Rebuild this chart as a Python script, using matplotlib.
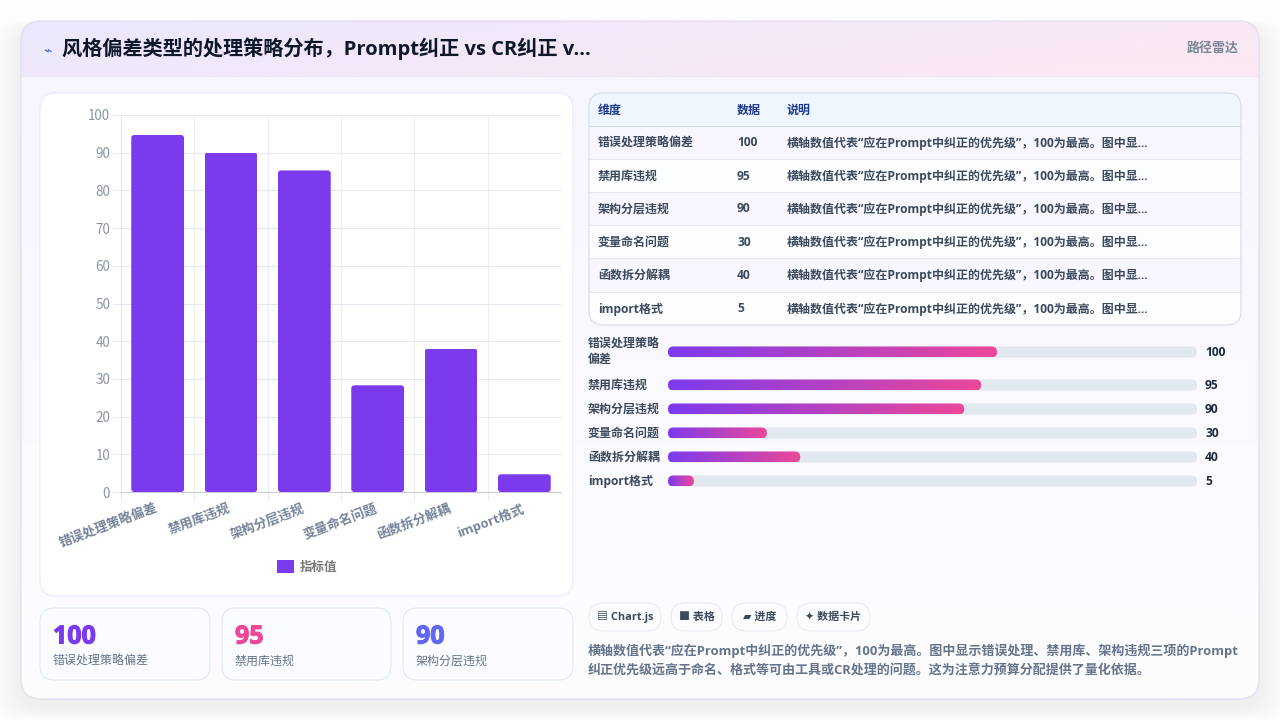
import numpy as np
import matplotlib
matplotlib.use("Agg")
import matplotlib.pyplot as plt
import matplotlib.patheffects as pe
from matplotlib.colors import LinearSegmentedColormap
from matplotlib.patches import FancyBboxPatch, Rectangle
from matplotlib.ticker import FixedLocator
from matplotlib.transforms import ScaledTranslation

plt.rcParams['font.family'] = ['Open Sans', 'Noto Sans CJK SC', 'DejaVu Sans']

# data
categories = ['错误处理策略偏差', '禁用库违规', '架构分层违规', '变量命名问题', '函数拆分解耦', 'import格式']
bar_values = [94.7, 90, 85.3, 28.3, 38, 4.7]
table_values = [100, 95, 90, 30, 40, 5]
fill_percent = [62.2, 59.2, 56, 18.7, 25, 4.9]
progress_labels = ['错误处理策略\n偏差', '禁用库违规', '架构分层违规', '变量命名问题', '函数拆分解耦', 'import格式']
table_note = '横轴数值代表“应在Prompt中纠正的优先级”，100为最高。图中显...'
table_headers = ['维度', '数据', '说明']
stat_values = ['100', '95', '90']
stat_labels = ['错误处理策略偏差', '禁用库违规', '架构分层违规']
stat_colors = ['#7c3aed', '#ec4899', '#6366f1']
pill_texts = ['▤ Chart.js', '■ 表格', '▰ 进度', '✦ 数据卡片']
title = '风格偏差类型的处理策略分布，Prompt纠正 vs CR纠正 v...'
badge = '路径雷达'
desc_lines = ['横轴数值代表“应在Prompt中纠正的优先级”，100为最高。图中显示错误处理、禁用库、架构违规三项的Prompt',
              '纠正优先级远高于命名、格式等可由工具或CR处理的问题。这为注意力预算分配提供了量化依据。']

W, H = 1280, 720
CJK = ['Noto Sans CJK SC', 'DejaVu Sans']


def px(size):
    # css pixels to points at dpi 100
    return size * 0.72


def axes_at(x0, y0, x1, y1, z=2):
    a = fig.add_axes([x0 / W, 1 - y1 / H, (x1 - x0) / W, (y1 - y0) / H], zorder=z)
    a.patch.set_alpha(0)
    return a


def rbox(a, x0, y0, x1, y1, r, fc='none', ec='none', lw=0.7, z=1, alpha=None, aspect=1):
    p = FancyBboxPatch((x0, y0), x1 - x0, y1 - y0, boxstyle='round,pad=0,rounding_size=%f' % r,
                       fc=fc, ec=ec, lw=lw, zorder=z, alpha=alpha, mutation_aspect=aspect)
    a.add_patch(p)
    return p


def gradient(a, clip, extent, c0, c1, z=1, mode='h'):
    cmap = LinearSegmentedColormap.from_list('g', [c0, c1])
    g = np.linspace(0, 1, 256).reshape(1, -1)
    if mode == 'diag':
        g = np.add.outer(np.linspace(0, .25, 64), np.linspace(0, .75, 256))
    if mode == 'v':
        g = np.linspace(0, 1, 256).reshape(-1, 1)
    im = a.imshow(g, extent=extent, cmap=cmap, vmin=0, vmax=1, aspect='auto', zorder=z,
                  interpolation='bilinear')
    im.set_clip_path(clip)
    return im


fig = plt.figure(figsize=(12.8, 7.2), dpi=100, facecolor='#fdfdfe')
bg = fig.add_axes([0, 0, 1, 1], zorder=0)
bg.set_xlim(0, W)
bg.set_ylim(H, 0)
bg.axis('off')

# card shadow
for i in range(14):
    rbox(bg, 21 - i * 2, 33 - i, 1259 + i * 2, 707 + i, 22, fc='#0f172a', alpha=0.004, z=0.5)

# main card
card = rbox(bg, 21, 21, 1259, 699, 20, fc='#fbfaff', z=1)
gradient(bg, card, (21, 1259, 699, 21), '#f7f5ff', '#fdfdff', z=1.1, mode='v')
h = gradient(bg, card, (21, 1259, 76, 21), '#ebe8fd', '#fde8f3', z=1.2, mode='diag')
bg.plot([21, 1259], [76, 76], color='#e9e7f8', lw=0.7, zorder=1.3)
rbox(bg, 21, 21, 1259, 699, 20, ec='#dedbf2', lw=0.8, z=1.4)
bg.set_xlim(0, W)
bg.set_ylim(H, 0)

bg.text(47, 50, '⌁', fontsize=px(14), color='#3b5bdb', ha='center', va='center', zorder=3,
        family=['DejaVu Sans'])
bg.text(62, 49, title, fontsize=px(20.2), fontweight='bold', color='#0f172a', va='center', zorder=3)
bg.text(1239, 48, badge, fontsize=px(13), fontweight='bold', color='#7c8798', ha='right', va='center', zorder=3)

# chart panel
rbox(bg, 40, 93, 573, 596, 16, fc='white', ec='#e4eaf6', z=2)

ax = axes_at(121, 115, 561, 492)
xpos = np.arange(len(categories))
bars = ax.bar(xpos, bar_values, width=0.72, color='#7c3aed', label='指标值', zorder=3)
ax.set_xlim(-0.5, 5.5)
ax.set_ylim(0, 100)
ux, uy = 440 / 6, 377 / 100
for b in bars:
    cp = FancyBboxPatch((b.get_x(), 0), b.get_width(), b.get_height(),
                        boxstyle='round,pad=0,rounding_size=%f' % (3 / ux),
                        mutation_aspect=ux / uy, fc='none', ec='none', transform=ax.transData)
    ax.add_patch(cp)
    b.set_clip_path(cp)
ax.set_yticks(np.arange(0, 101, 10))
ax.set_xticks(xpos)
ax.set_xticklabels(categories, rotation=20.5, ha='right', rotation_mode='anchor',
                   fontsize=px(13), fontweight='bold', color='#76839a')
ax.xaxis.set_minor_locator(FixedLocator(np.arange(-0.5, 5, 1)))
ax.tick_params(axis='x', which='major', length=0, pad=7)
ax.tick_params(axis='x', which='minor', length=5.8, color='#e6e9f0', width=0.7)
ax.tick_params(axis='y', length=5.8, color='#e2e8f0', width=0.7, labelsize=px(13.5),
               labelcolor='#8a94a3', pad=2)
# labels sit a little left of the tick centre
shift = ScaledTranslation(-3 / 100, 0, fig.dpi_scale_trans)
for lab in ax.get_xticklabels():
    lab.set_transform(lab.get_transform() + shift)
for lab in ax.get_yticklabels():
    lab.set_family(CJK)
ax.grid(True, axis='y', color='#e2e8f0', lw=0.7, zorder=0)
ax.grid(True, axis='x', which='minor', color='#e9edf3', lw=0.7, zorder=0)
ax.set_axisbelow(True)
for s in ['top', 'right']:
    ax.spines[s].set_visible(False)
ax.spines['left'].set_color('#e2e8f0')
ax.spines['left'].set_linewidth(0.7)
ax.spines['bottom'].set_color('#c9ccd8')
ax.spines['bottom'].set_linewidth(0.7)
ax.legend(handles=[bars], loc='center', bbox_to_anchor=(307 / W, 1 - 567 / H),
          bbox_transform=fig.transFigure, frameon=False, prop={'size': px(12.5), 'weight': 'bold'},
          labelcolor='#77777c', handlelength=1.36, handleheight=1.2, handletextpad=0.5, borderpad=0)

# stat cards
card_x = [(40, 210), (222, 391), (403, 573)]
for (x0, x1), v, lab, c in zip(card_x, stat_values, stat_labels, stat_colors):
    rbox(bg, x0, 608, x1, 680, 14, fc='#fafcff', ec='#dbe7f7', z=2)
    bg.text(x0 + 13, 637, v, fontsize=px(25), fontweight='bold', color=c, va='center', zorder=3,
            path_effects=[pe.withStroke(linewidth=0.8, foreground=c)])
    bg.text(x0 + 13, 661, lab, fontsize=px(12), color='#64748b', va='center', zorder=3)

# table
table_box = rbox(bg, 589, 93, 1241, 325, 14, fc='#fbfcff', z=2)
row_edges = [126, 159, 192, 225, 258, 292, 325]
head = Rectangle((589, 93), 652, 33, fc='#eff6ff', zorder=2.1)
bg.add_patch(head)
head.set_clip_path(table_box)
for i in range(6):
    row = Rectangle((589, row_edges[i]), 652, row_edges[i + 1] - row_edges[i],
                    fc='#f8f6ff' if i % 2 == 0 else '#fbfdff', zorder=2.1)
    bg.add_patch(row)
    row.set_clip_path(table_box)
    bg.plot([589, 1241], [row_edges[i]] * 2, color='#e3e8f1' if i else '#cfd9ea', lw=0.7, zorder=2.2)
rbox(bg, 589, 93, 1241, 325, 14, ec='#cfd9ea', z=2.3)
col_x = [598, 737, 787]
for x, t in zip(col_x, table_headers):
    bg.text(x, 110, t, fontsize=px(12), fontweight='bold', color='#1e3a8a', va='center', zorder=3)
for i, (c, v) in enumerate(zip(categories, table_values)):
    y = (row_edges[i] + row_edges[i + 1]) / 2 + 0.5
    for x, t in zip(col_x, [c, str(v), table_note]):
        bg.text(x, y, t, fontsize=px(12), fontweight='bold', color='#3d4a5e', va='center', zorder=3)

# progress rows
rows_y = [352, 385, 409, 433, 457, 481]
pg = axes_at(668, 340, 1197, 490)
pg.set_xlim(0, 100)
pg.set_ylim(490, 340)
pg.axis('off')
upx = 529 / 100
tracks = pg.barh(rows_y, [100] * 6, height=11, color='none')
fills = pg.barh(rows_y, fill_percent, height=11, color='none')
for tb, fb in zip(tracks, fills):
    y0 = tb.get_y()
    rbox(pg, 0, y0, 100, y0 + 11, 5.5 / upx, fc='#e2e8f0', z=1, aspect=upx)
    w = fb.get_width()
    cp = rbox(pg, 0, y0, w, y0 + 11, 5.5 / upx, z=0.1, aspect=upx)
    gradient(pg, cp, (0, w, y0 + 11, y0), '#7c3aed', '#ec4899', z=2)
pg.set_xlim(0, 100)
pg.set_ylim(490, 340)
for lab, v, y in zip(progress_labels, table_values, rows_y):
    bg.text(588, y, lab, fontsize=px(12), fontweight='bold', color='#3d4a5e', va='center',
            linespacing=1.3, zorder=3)
    bg.text(1205, y + 0.5, str(v), fontsize=px(12), fontweight='bold', color='#1e293b', va='center', zorder=3)

# pills
pill_x = [(589, 661), (671, 722), (732, 787), (797, 870)]
for (x0, x1), t in zip(pill_x, pill_texts):
    rbox(bg, x0, 603, x1, 631, 14, fc='#fbfcfe', ec='#e3e8f1', z=2)
    bg.text((x0 + x1) / 2, 617, t, fontsize=px(11), fontweight='bold', color='#3d4a5e',
            ha='center', va='center', zorder=3)

# note under the pills
for line, y in zip(desc_lines, [651, 671]):
    bg.text(588, y, line, fontsize=px(13), fontweight='bold', color='#64748b', va='center', zorder=3)

fig.savefig('out.png', dpi=100, facecolor=fig.get_facecolor())
